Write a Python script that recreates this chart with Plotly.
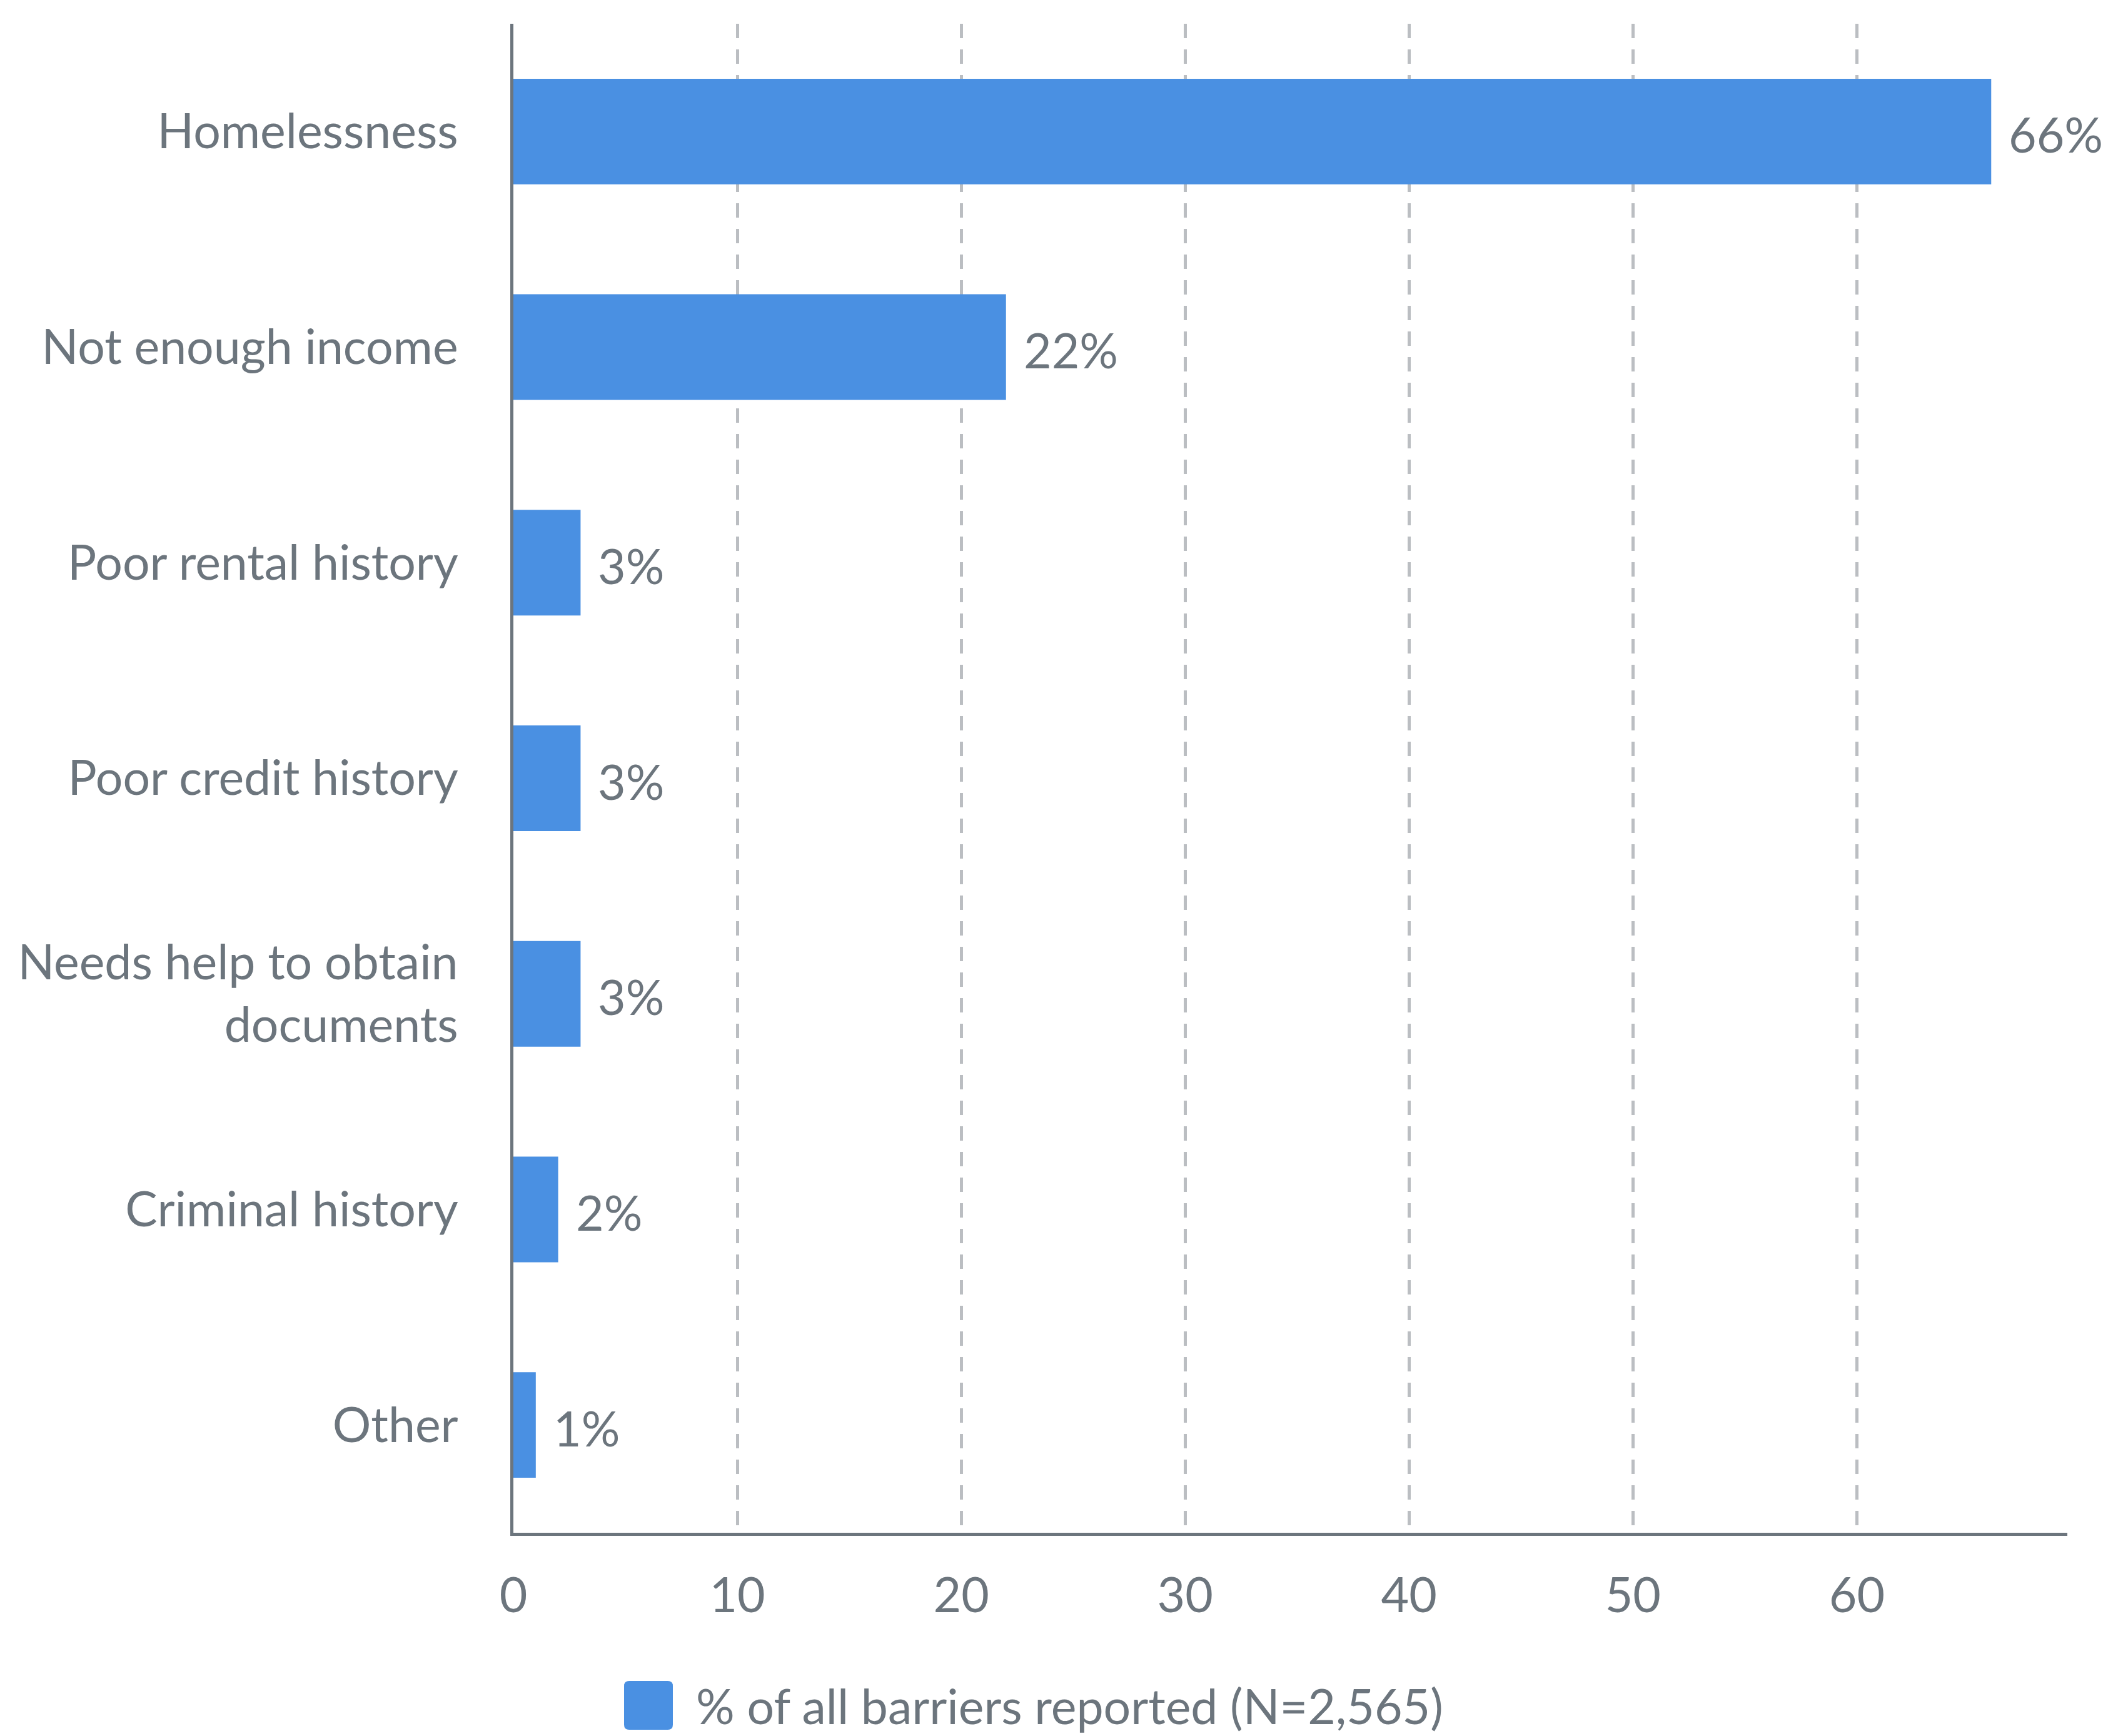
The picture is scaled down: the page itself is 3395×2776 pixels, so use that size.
import plotly.graph_objects as go

# Barriers to housing, share of all reported barriers
categories = [
    "Homelessness",
    "Not enough income",
    "Poor rental history",
    "Poor credit history",
    "Needs help to obtain<br>documents",
    "Criminal history",
    "Other",
]
values = [66, 22, 3, 3, 3, 2, 1]
x_ticks = [0, 10, 20, 30, 40, 50, 60]
series_name = "% of all barriers reported (N=2,565)"

BAR_COLOR = "#4a90e2"
TEXT_COLOR = "#6c757d"
GRID_COLOR = "#bbbec2"
FONT = "Lato, 'Open Sans', sans-serif"
FONT_SIZE = 77

W, H = 3395, 2776
M_L, M_R, M_T, M_B = 821, 89, 38, 325
plot_w = W - M_L - M_R
plot_h = H - M_T - M_B

fig = go.Figure()
fig.add_trace(go.Bar(
    x=values,
    y=categories,
    orientation="h",
    width=0.49,
    marker=dict(color=BAR_COLOR, line=dict(width=0)),
    name=series_name,
    showlegend=False,
    hoverinfo="skip",
))

# value labels just past the end of each bar
for cat, val in zip(categories, values):
    fig.add_annotation(
        x=val, y=cat, xref="x", yref="y",
        text=f"{val}%", showarrow=False,
        xanchor="left", yanchor="middle", xshift=26, yshift=-4,
        font=dict(family=FONT, size=FONT_SIZE, color=TEXT_COLOR),
    )

# legend: rounded swatch plus label below the axis
def px_x(p):
    return (p - M_L) / plot_w

def px_y(p):
    return (M_T + plot_h - p) / plot_h

r, s = 8, 39
swatch = (f"M {-s + r},{-s} L {s - r},{-s} Q {s},{-s} {s},{-s + r} "
          f"L {s},{s - r} Q {s},{s} {s - r},{s} L {-s + r},{s} "
          f"Q {-s},{s} {-s},{s - r} L {-s},{-s + r} Q {-s},{-s} {-s + r},{-s} Z")
fig.add_shape(
    type="path", path=swatch,
    xref="paper", yref="paper",
    xsizemode="pixel", ysizemode="pixel",
    xanchor=px_x(1037), yanchor=px_y(2727),
    fillcolor=BAR_COLOR, line=dict(width=0),
)
fig.add_annotation(
    x=px_x(1111), y=px_y(2727), xref="paper", yref="paper",
    text=series_name, showarrow=False,
    xanchor="left", yanchor="middle",
    font=dict(family=FONT, size=FONT_SIZE, color=TEXT_COLOR),
)

fig.update_layout(
    width=W, height=H,
    margin=dict(l=M_L, r=M_R, t=M_T, b=M_B, pad=0, autoexpand=False),
    paper_bgcolor="white", plot_bgcolor="white",
    font=dict(family=FONT, size=FONT_SIZE, color=TEXT_COLOR),
    showlegend=False,
)
fig.update_xaxes(
    range=[0, 69.4],
    tickvals=x_ticks,
    ticktext=[str(t) for t in x_ticks],
    showgrid=True, gridcolor=GRID_COLOR, gridwidth=5,
    griddash="23px,18px",
    zeroline=False,
    showline=True, linecolor=TEXT_COLOR, linewidth=5,
    ticks="", ticklabelstandoff=30, automargin=False,
    tickfont=dict(family=FONT, size=FONT_SIZE, color=TEXT_COLOR),
)
fig.update_yaxes(
    categoryorder="array", categoryarray=categories,
    range=[6.5, -0.5],
    showgrid=False, zeroline=False,
    showline=True, linecolor=TEXT_COLOR, linewidth=5,
    ticks="", ticklabelstandoff=68, automargin=False,
    tickfont=dict(family=FONT, size=FONT_SIZE, color=TEXT_COLOR),
)

fig.write_html("out.html")
